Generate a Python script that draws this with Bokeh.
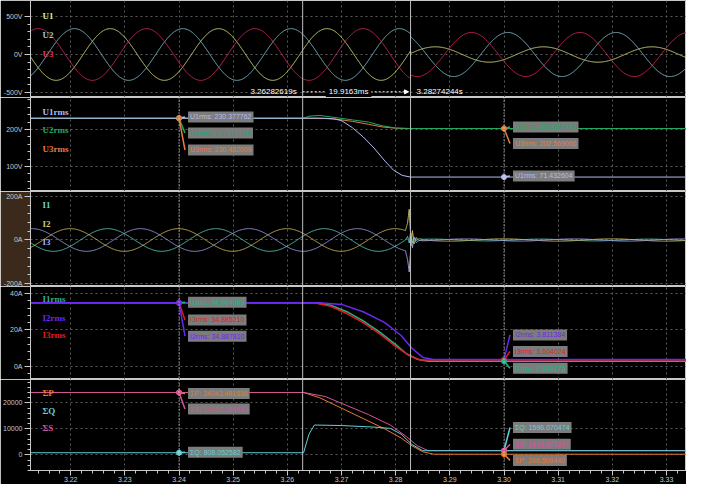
import numpy as np
from bokeh.plotting import figure
from bokeh.layouts import column
from bokeh.models import Range1d, Span, Label, FixedTicker, Arrow, NormalHead
from bokeh.embed import file_html
from bokeh.resources import INLINE

# ---------------- data ----------------
x_ticks = [3.22, 3.23, 3.24, 3.25, 3.26, 3.27, 3.28, 3.29, 3.30, 3.31, 3.32, 3.33]
x_tick_labels = ["3.22", "3.23", "3.24", "3.25", "3.26", "3.27", "3.28", "3.29", "3.30", "3.31", "3.32", "3.33"]
cursor_times = [3.26282619, 3.28274244]
cursor_texts = ["3.26282619s", "19.9163ms", "3.28274244s"]
marker_times = [3.24, 3.30]
fault_time = 3.28274244
mains_hz = 50.0
t_first, t_last = 3.2125, 3.3345

# phase voltages: amplitude before / after the fault, time of a positive peak
u_names = ["U1", "U2", "U3"]
u_peak_time = [3.2273, 3.2207, 3.2140]
u_amp_before = [340.0, 340.0, 340.0]
u_amp_after = [101.0, 290.0, 290.0]

# phase currents
i_names = ["I1", "I2", "I3"]
i_peak_time = [3.2268, 3.2199, 3.2129]
i_amp_before = [52.0, 52.0, 52.0]
i_amp_after = [4.1, 5.4, 5.1]
i_tr_time = [3.2818, 3.2822, 3.2825, 3.2828, 3.2831, 3.2834, 3.2838, 3.2843, 3.2850]
i1_tr = [0, 10, -25, 30, -15, 12, -6, 3, 0]
i2_tr = [0, 40, 105, -30, 40, -20, 10, -4, 0]
i3_tr = [0, -40, -95, 20, -30, 15, -8, 3, 0]

# RMS voltages
u1rms_t = [3.2125, 3.2667, 3.2685, 3.2700, 3.2720, 3.2740, 3.2760, 3.2780, 3.2796, 3.2812, 3.2827, 3.3345]
u1rms_v = [230.38, 230.38, 229.0, 224.0, 205.0, 180.0, 150.0, 115.0, 90.0, 76.0, 71.43, 71.43]
u2rms_t = [3.2125, 3.2630, 3.2640, 3.2660, 3.2690, 3.2720, 3.2750, 3.2775, 3.2800, 3.2827, 3.3345]
u2rms_v = [230.12, 230.12, 236.0, 238.0, 232.0, 226.0, 220.0, 210.0, 204.0, 202.63, 202.63]
u3rms_t = [3.2125, 3.2660, 3.2690, 3.2720, 3.2750, 3.2775, 3.2800, 3.2827, 3.3345]
u3rms_v = [230.48, 230.48, 228.0, 222.0, 214.0, 207.0, 203.5, 202.57, 202.57]

# RMS currents
i1rms_t = [3.2125, 3.2650, 3.2680, 3.2710, 3.2740, 3.2770, 3.2800, 3.2820, 3.2840, 3.2860, 3.3345]
i1rms_v = [34.94, 34.94, 33.5, 30.0, 25.0, 19.0, 12.0, 7.0, 4.0, 2.88, 2.88]
i2rms_t = [3.2125, 3.2660, 3.2700, 3.2740, 3.2780, 3.2810, 3.2830, 3.2850, 3.2870, 3.3345]
i2rms_v = [34.89, 34.89, 34.0, 30.0, 24.0, 17.0, 10.0, 5.0, 3.81, 3.81]
i3rms_t = [3.2125, 3.2650, 3.2680, 3.2710, 3.2740, 3.2770, 3.2800, 3.2825, 3.2845, 3.3345]
i3rms_v = [34.885, 34.885, 33.0, 29.0, 24.0, 18.0, 11.0, 6.0, 3.6, 3.6]

# total powers
p_t = [3.2125, 3.2630, 3.2660, 3.2700, 3.2740, 3.2780, 3.2810, 3.2830, 3.2850, 3.2870, 3.3345]
p_v = [24043, 24043, 22000, 18000, 14000, 10000, 6500, 3500, 1200, 246.5, 246.5]
s_t = [3.2125, 3.2630, 3.2670, 3.2710, 3.2750, 3.2790, 3.2820, 3.2840, 3.2860, 3.3345]
s_v = [24057, 24057, 22500, 19000, 15500, 11500, 7000, 3500, 1617, 1617]
q_t = [3.2125, 3.2630, 3.2640, 3.2650, 3.2700, 3.2760, 3.2790, 3.2810, 3.2830, 3.2850, 3.3345]
q_v = [808, 808, 8000, 11500, 11300, 10700, 10200, 8000, 4000, 1596, 1596]

# marker read-outs
u_mark_a = [("U1rms: 230.377762", 230.38), ("U2rms: 230.117158", 230.12), ("U3rms: 230.482009", 230.48)]
u_mark_b = [("U2rms: 202.634046", 202.63), ("U3rms: 202.569066", 202.57), ("U1rms: 71.432604", 71.43)]
i_mark_a = [("I1rms: 34.944089", 34.94), ("I3rms: 34.885210", 34.885), ("I2rms: 34.887810", 34.89)]
i_mark_b = [("I2rms: 3.811384", 3.81), ("I3rms: 3.604024", 3.60), ("I1rms: 2.880275", 2.88)]
pw_mark_a = [("ΣP: 24043.481886", 24043), ("ΣS: 24057.056650", 24057), ("ΣQ: 808.052582", 808)]
pw_mark_b = [("ΣQ: 1596.070474", 1596), ("ΣS: 1616.971287", 1617), ("ΣP: 246.509440", 246.5)]

# ---------------- style / layout ----------------
W = 686
LEFT = 28
PX_PER_S = 5433.0
X0 = 3.21258
X1 = X0 + (W - LEFT) / PX_PER_S
xr = Range1d(X0, X1)

C_U = ["#dce884", "#8cc8d4", "#e0306c"]
C_URMS = ["#b4bcf0", "#22a862", "#e47c40"]
C_I = ["#66d4c4", "#d8c468", "#aaaaf0"]
C_IRMS = ["#22b488", "#6a28f0", "#e41c20"]
C_P, C_Q, C_S = "#e47a30", "#60d0d8", "#d4549a"
AX = "#c8c8c8"
BOX = "#7c7c7c"
x_minor = [round(3.212 + 0.002 * k, 3) for k in range(62)]


def panel(h, y0, y1, major, minor, labels, bottom=False, border="#000000"):
    p = figure(width=W, height=h, x_range=xr, y_range=Range1d(y0, y1),
               output_backend="svg", toolbar_location=None,
               x_axis_location="below" if bottom else None,
               min_border_left=LEFT, min_border_right=0, min_border_top=0,
               min_border_bottom=14 if bottom else 0,
               background_fill_color="#000000", border_fill_color=border,
               outline_line_color="#c8c8c8", outline_line_width=1)
    ax = p.yaxis[0]
    ax.ticker = FixedTicker(ticks=major, minor_ticks=minor)
    ax.major_label_overrides = {m: l for m, l in zip(major, labels)}
    ax.major_label_text_font_size = "7px"
    ax.major_label_text_color = AX
    ax.major_label_text_font = "Liberation Sans"
    ax.major_label_standoff = 2
    ax.axis_line_color = AX
    ax.major_tick_line_color = AX
    ax.minor_tick_line_color = AX
    ax.major_tick_out = 6
    ax.major_tick_in = 0
    ax.minor_tick_out = 3
    ax.minor_tick_in = 0
    p.xgrid.ticker = FixedTicker(ticks=x_ticks)
    p.ygrid.ticker = FixedTicker(ticks=major)
    p.grid.grid_line_color = "#5a5a5a"
    p.grid.grid_line_dash = "2 3"
    p.grid.grid_line_width = 1
    if bottom:
        xa = p.xaxis[0]
        xa.ticker = FixedTicker(ticks=x_ticks, minor_ticks=x_minor)
        xa.major_label_overrides = {m: l for m, l in zip(x_ticks, x_tick_labels)}
        xa.major_label_text_font_size = "7px"
        xa.major_label_text_color = AX
        xa.major_label_standoff = 1
        xa.axis_line_color = AX
        xa.major_tick_line_color = AX
        xa.minor_tick_line_color = AX
        xa.major_tick_out = 5
        xa.major_tick_in = 0
        xa.minor_tick_out = 3
        xa.minor_tick_in = 0
    for ct in cursor_times:
        p.add_layout(Span(location=ct, dimension="height", line_color="#bdbdbd", line_width=1))
    return p


def name_labels(p, names, colors, ys):
    for n, c, y in zip(names, colors, ys):
        p.add_layout(Label(x=X0 + 12 / PX_PER_S, y=y, text=n, text_color=c,
                           text_font="Liberation Serif", text_font_style="bold",
                           text_font_size="9px", text_baseline="middle"))


def marker_readouts(p, t_mark, items, colors, box_ys):
    dx = 6 / PX_PER_S
    p.add_layout(Span(location=t_mark, dimension="height", line_color="#e6e6e6",
                      line_dash="1 2", line_width=1))
    for (txt, val), col, by in zip(items, colors, box_ys):
        p.segment(x0=[t_mark], y0=[val], x1=[t_mark + dx], y1=[by], line_color=col, line_width=1.5)
        p.add_layout(Label(x=t_mark, y=by, x_offset=9, text=txt, text_color=col,
                           text_font="Liberation Sans", text_font_size="7px",
                           text_baseline="middle", background_fill_color=BOX,
                           background_fill_alpha=1.0, padding=2))
    for (txt, val), col in zip(items, colors):
        p.scatter([t_mark], [val], size=5, color=col)


t = np.arange(t_first, t_last, 0.00002)
before = t < fault_time

# ---- panel 1: phase voltages ----
p1 = panel(97, -565.8, 710.5, [-500, 0, 500], list(range(-500, 501, 100)), ["-500V", "0V", "500V"])
for k in range(3):
    w = np.cos(2 * np.pi * mains_hz * (t - u_peak_time[k]))
    v = np.where(before, u_amp_before[k] * w, u_amp_after[k] * w)
    p1.line(t, v, line_color=C_U[k], line_width=1)
name_labels(p1, u_names, C_U, [500, 250, 0])
ya = -491
p1.segment(x0=[cursor_times[0]], y0=[ya], x1=[cursor_times[1] - 3 / PX_PER_S], y1=[ya],
           line_color="#ffffff", line_dash="2 2", line_width=1)
p1.add_layout(Arrow(x_start=cursor_times[1] - 6 / PX_PER_S, y_start=ya, x_end=cursor_times[1] - 2 / PX_PER_S,
                    y_end=ya, line_color="#ffffff", line_width=1,
                    end=NormalHead(size=4, fill_color="#ffffff", line_color="#ffffff")))
p1.add_layout(Label(x=cursor_times[0], y=ya, x_offset=-6, text=cursor_texts[0], text_color="#ffffff",
                    text_font="Liberation Sans", text_font_size="8px", text_align="right", text_baseline="middle"))
p1.add_layout(Label(x=(cursor_times[0] + cursor_times[1]) / 2, y=ya, x_offset=-8, text=cursor_texts[1],
                    text_color="#ffffff", text_font="Liberation Sans", text_font_size="8px",
                    text_align="center", text_baseline="middle", background_fill_color="#000000",
                    background_fill_alpha=1.0, padding=3))
p1.add_layout(Label(x=cursor_times[1], y=ya, x_offset=6, text=cursor_texts[2], text_color="#ffffff",
                    text_font="Liberation Sans", text_font_size="8px", text_align="left", text_baseline="middle"))

# ---- panel 2: RMS voltages (U1rms drawn on top) ----
p2 = panel(94, 32.4, 286.5, [100, 200], list(range(40, 281, 20)), ["100V", "200V"])
for tt, vv, c in zip([u3rms_t, u2rms_t, u1rms_t], [u3rms_v, u2rms_v, u1rms_v], [C_URMS[2], C_URMS[1], C_URMS[0]]):
    p2.line(tt, vv, line_color=c, line_width=1)
name_labels(p2, ["U1rms", "U2rms", "U3rms"], C_URMS, [248.6, 199.2, 147.8])
marker_readouts(p2, marker_times[0], u_mark_a, C_URMS, [233.8, 190.5, 144.6])
marker_readouts(p2, marker_times[1], u_mark_b, [C_URMS[1], C_URMS[2], C_URMS[0]], [206.8, 162.2, 74.3])

# ---- panel 3: phase currents ----
p3 = panel(95, -213.6, 222.7, [-200, 0, 200], list(range(-200, 201, 40)), ["-200A", "0A", "200A"],
           border="#3b2a1c")
for k, tr in enumerate([i1_tr, i2_tr, i3_tr]):
    w = np.cos(2 * np.pi * mains_hz * (t - i_peak_time[k]))
    v = np.where(before, i_amp_before[k] * w, i_amp_after[k] * w) + np.interp(t, i_tr_time, tr, left=0, right=0)
    p3.line(t, v, line_color=C_I[k], line_width=1)
name_labels(p3, i_names, C_I, [159, 73, -10])
for mt in marker_times:
    p3.add_layout(Span(location=mt, dimension="height", line_color="#e6e6e6", line_dash="1 2", line_width=1))

# ---- panel 4: RMS currents (I2rms drawn on top) ----
p4 = panel(93, -7.1, 43.8, [0, 20, 40], list(range(-4, 44, 4)), ["0A", "20A", "40A"])
for tt, vv, c in zip([i1rms_t, i3rms_t, i2rms_t], [i1rms_v, i3rms_v, i2rms_v], [C_IRMS[0], C_IRMS[2], C_IRMS[1]]):
    p4.line(tt, vv, line_color=c, line_width=1.5)
name_labels(p4, ["I1rms", "I2rms", "I3rms"], C_IRMS, [37, 26.8, 17])
marker_readouts(p4, marker_times[0], i_mark_a, [C_IRMS[0], C_IRMS[2], C_IRMS[1]], [35.2, 25.5, 16.6])
marker_readouts(p4, marker_times[1], i_mark_b, [C_IRMS[1], C_IRMS[2], C_IRMS[0]], [17.3, 8.2, -0.9])

# ---- panel 5: total powers ----
p5 = panel(105, -6038, 29057, [0, 10000, 20000], list(range(-6000, 29001, 2000)), ["0", "10000", "20000"],
           bottom=True)
p5.line(p_t, p_v, line_color=C_P, line_width=1)
p5.line(s_t, s_v, line_color=C_S, line_width=1)
p5.line(q_t, q_v, line_color=C_Q, line_width=1)
name_labels(p5, ["ΣP", "ΣQ", "ΣS"], [C_P, C_Q, C_S], [23865, 17000, 10356])
marker_readouts(p5, marker_times[0], pw_mark_a, [C_P, C_S, C_Q], [23640, 17636, 976])
marker_readouts(p5, marker_times[1], pw_mark_b, [C_Q, C_S, C_P], [10544, 4128, -2139])

layout = column(p1, p2, p3, p4, p5, spacing=0)
open("out.html", "w").write(file_html(layout, INLINE))
